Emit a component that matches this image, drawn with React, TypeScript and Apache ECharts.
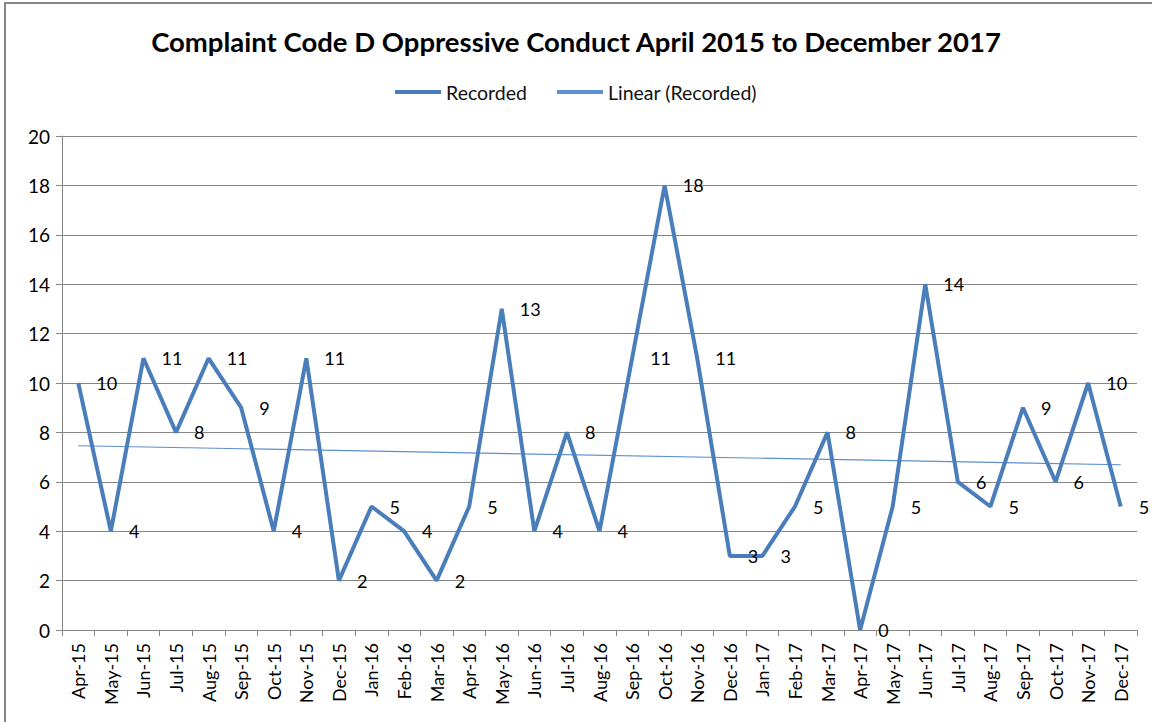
import React, { useEffect, useRef } from "react";
import * as echarts from "echarts";

const months = [
  "Apr-15", "May-15", "Jun-15", "Jul-15", "Aug-15", "Sep-15", "Oct-15", "Nov-15", "Dec-15",
  "Jan-16", "Feb-16", "Mar-16", "Apr-16", "May-16", "Jun-16", "Jul-16", "Aug-16", "Sep-16",
  "Oct-16", "Nov-16", "Dec-16", "Jan-17", "Feb-17", "Mar-17", "Apr-17", "May-17", "Jun-17",
  "Jul-17", "Aug-17", "Sep-17", "Oct-17", "Nov-17", "Dec-17",
];
const recorded = [
  10, 4, 11, 8, 11, 9, 4, 11, 2,
  5, 4, 2, 5, 13, 4, 8, 4, 11,
  18, 11, 3, 3, 5, 8, 0, 5, 14,
  6, 5, 9, 6, 10, 5,
];
// Excel linear trendline endpoints
const trendStart = 7.46;
const trendEnd = 6.69;

const title = "Complaint Code D Oppressive Conduct April 2015 to December 2017";
const FONT = "Lato, 'Liberation Sans', sans-serif";

export default function App() {
  const ref = useRef<HTMLDivElement>(null);
  useEffect(() => {
    document.body.style.margin = "0";
    const chart = echarts.init(ref.current!, null, { renderer: "svg" });
    chart.setOption({
      animation: false,
      backgroundColor: "#fff",
      textStyle: { fontFamily: FONT },
      title: {
        text: title,
        left: "center",
        top: 22,
        textStyle: { fontFamily: FONT, fontSize: 27.5, fontWeight: "bold", color: "#000" },
      },
      legend: {
        top: 77,
        left: "center",
        itemGap: 30,
        itemWidth: 46,
        itemHeight: 4,
        textStyle: { fontFamily: FONT, fontSize: 19.5, color: "#111" },
        data: [
          { name: "Recorded", icon: "rect" },
          { name: "Linear (Recorded)", icon: "rect" },
        ],
      },
      graphic: [
        {
          type: "rect",
          shape: { x: 5, y: 3, width: 1200, height: 800 },
          style: { fill: "none", stroke: "#868686", lineWidth: 2 },
          silent: true,
        },
      ],
      grid: { left: 62, right: 15, top: 136, bottom: 92, containLabel: false },
      xAxis: {
        type: "category",
        data: months,
        boundaryGap: true,
        axisLine: { lineStyle: { color: "#868686", width: 1 } },
        axisTick: { show: true, alignWithLabel: false, length: 6, lineStyle: { color: "#868686" } },
        axisLabel: {
          rotate: 90,
          interval: 0,
          margin: 13,
          fontFamily: FONT,
          fontSize: 18,
          color: "#000",
        },
      },
      yAxis: {
        type: "value",
        min: 0,
        max: 20,
        interval: 2,
        axisLine: { show: true, lineStyle: { color: "#868686", width: 1 } },
        axisTick: { show: true, length: 6, lineStyle: { color: "#868686" } },
        splitLine: { lineStyle: { color: "#868686", width: 1 } },
        axisLabel: { fontFamily: FONT, fontSize: 19, color: "#000", margin: 12 },
      },
      series: [
        {
          name: "Recorded",
          type: "line",
          data: recorded,
          symbol: "circle",
          symbolSize: 0.1,
          showSymbol: true,
          lineStyle: { color: "#4A7EBB", width: 4 },
          itemStyle: { color: "#4A7EBB" },
          label: {
            show: true,
            position: "right",
            distance: 18,
            fontFamily: FONT,
            fontSize: 18,
            color: "#000",
          },
          z: 3,
        },
        {
          name: "Linear (Recorded)",
          type: "line",
          data: [
            [months[0], trendStart],
            [months[months.length - 1], trendEnd],
          ],
          symbol: "none",
          lineStyle: { color: "#5B8FD0", width: 1.2 },
          itemStyle: { color: "#5B8FD0" },
          z: 2,
        },
      ],
    });
    return () => chart.dispose();
  }, []);
  return <div ref={ref} style={{ width: 1152, height: 722 }} />;
}
